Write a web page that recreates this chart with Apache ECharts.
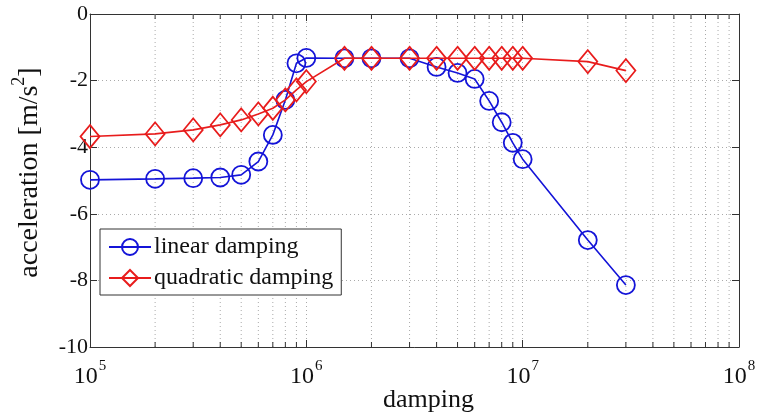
<!DOCTYPE html>
<html><head><meta charset="utf-8">
<script src="https://cdn.jsdelivr.net/npm/echarts@6/dist/echarts.min.js"></script>
<style>html,body{margin:0;padding:0;background:#fff}#c{width:757px;height:419px}</style>
</head><body><div id="c"></div>
<script>
const damping = [1e5,2e5,3e5,4e5,5e5,6e5,7e5,8e5,9e5,1e6,1.5e6,2e6,3e6,4e6,5e6,6e6,7e6,8e6,9e6,1e7,2e7,3e7];
const linearAcc = [-4.98,-4.95,-4.93,-4.91,-4.83,-4.43,-3.63,-2.58,-1.48,-1.32,-1.33,-1.33,-1.33,-1.59,-1.77,-1.95,-2.61,-3.25,-3.87,-4.36,-6.79,-8.14];
const quadAcc = [-3.68,-3.6,-3.48,-3.33,-3.18,-3.0,-2.83,-2.58,-2.28,-2.03,-1.33,-1.33,-1.33,-1.33,-1.33,-1.33,-1.33,-1.33,-1.33,-1.33,-1.43,-1.7];
const minorTicks = [2e5,3e5,4e5,5e5,6e5,7e5,8e5,9e5,2e6,3e6,4e6,5e6,6e6,7e6,8e6,9e6,2e7,3e7,4e7,5e7,6e7,7e7,8e7,9e7];
const yMin = -10, yMax = 0;

const font = 'Liberation Serif, Times New Roman, serif';
const blue = '#1414d8', red = '#e81c1c';
const chart = echarts.init(document.getElementById('c'));
const gridLine = {show: true, lineStyle: {color: '#aaaaaa', type: [1, 3], width: 1}};
chart.setOption({
  animation: false,
  grid: {left: 90, right: 18, top: 14, bottom: 72, containLabel: false, outerBoundsMode: 'none'},
  legend: {
    data: ['linear damping', 'quadratic damping'],
    orient: 'vertical', left: 100, top: 229,
    padding: [6, 8, 5, 8], itemGap: 7,
    backgroundColor: '#fff', borderColor: '#333', borderWidth: 1,
    itemWidth: 42, itemHeight: 20,
    textStyle: {fontFamily: font, fontSize: 24, color: '#111', padding: [0, 0, 0, -2]}
  },
  xAxis: [{
    type: 'log', logBase: 10, min: 1e5, max: 1e8,
    name: 'damping', nameLocation: 'middle', nameGap: 40, nameMoveOverlap: false,
    nameTextStyle: {fontFamily: font, fontSize: 26, color: '#111', padding: [0, 0, 0, 28]},
    axisLine: {show: true, onZero: false, lineStyle: {color: '#333', width: 1}},
    axisTick: {show: true, inside: true, length: 7, lineStyle: {color: '#333'}},
    splitLine: gridLine,
    axisLabel: {
      margin: 12,
      formatter: v => '{b|10}{s|' + Math.round(Math.log10(v)) + '}',
      rich: {
        b: {fontFamily: font, fontSize: 24, color: '#111', lineHeight: 30, verticalAlign: 'bottom'},
        s: {fontFamily: font, fontSize: 15, color: '#111', lineHeight: 30, verticalAlign: 'top', padding: [0, 0, 2, 1]}
      }
    }
  }, {
    type: 'log', logBase: 10, min: 1e5, max: 1e8, position: 'top',
    axisLine: {show: true, onZero: false, lineStyle: {color: '#333', width: 1}},
    axisTick: {show: true, inside: true, length: 7, lineStyle: {color: '#333'}},
    axisLabel: {show: false}, splitLine: {show: false}
  }],
  yAxis: [{
    type: 'value', min: yMin, max: yMax, interval: 2,
    name: '{a|acceleration [m/s}{s|2}{a|]}', nameLocation: 'middle', nameGap: 46, nameRotate: 90,
    nameMoveOverlap: false,
    nameTextStyle: {
      padding: [0, 0, 0, 16],
      rich: {
        a: {fontFamily: font, fontSize: 28, color: '#111', lineHeight: 34, verticalAlign: 'bottom'},
        s: {fontFamily: font, fontSize: 18, color: '#111', lineHeight: 34, verticalAlign: 'top'}
      }
    },
    axisLine: {show: true, onZero: false, lineStyle: {color: '#333', width: 1}},
    axisTick: {show: true, inside: true, length: 7, lineStyle: {color: '#333'}},
    splitLine: gridLine,
    axisLabel: {margin: 2, fontFamily: font, fontSize: 22, color: '#111'}
  }, {
    type: 'value', min: yMin, max: yMax, interval: 2, position: 'right',
    axisLine: {show: true, onZero: false, lineStyle: {color: '#333', width: 1}},
    axisTick: {show: true, inside: true, length: 7, lineStyle: {color: '#333'}},
    axisLabel: {show: false}, splitLine: {show: false}
  }],
  series: [{
    type: 'custom', name: 'minor', silent: true, z: 1,
    xAxisIndex: 0, yAxisIndex: 0,
    data: minorTicks.map(v => [v, yMin]),
    renderItem: function (params, api) {
      const v = api.value(0);
      const b = api.coord([v, yMin]);
      const t = api.coord([v, yMax]);
      return {type: 'group', children: [
        {type: 'line', shape: {x1: b[0], y1: b[1], x2: t[0], y2: t[1]},
         style: {stroke: '#aaaaaa', lineWidth: 1, lineDash: [1, 3]}},
        {type: 'line', shape: {x1: b[0], y1: b[1], x2: b[0], y2: b[1] - 5},
         style: {stroke: '#333', lineWidth: 1}},
        {type: 'line', shape: {x1: t[0], y1: t[1], x2: t[0], y2: t[1] + 5},
         style: {stroke: '#333', lineWidth: 1}}
      ]};
    }
  }, {
    type: 'line', name: 'linear damping', z: 3,
    data: damping.map((d, i) => [d, linearAcc[i]]),
    symbol: 'circle', symbolSize: 18,
    lineStyle: {color: blue, width: 1.6},
    itemStyle: {color: 'rgba(0,0,0,0)', borderColor: blue, borderWidth: 1.8}
  }, {
    type: 'line', name: 'quadratic damping', z: 4,
    data: damping.map((d, i) => [d, quadAcc[i]]),
    symbol: 'diamond', symbolSize: [19, 23],
    lineStyle: {color: red, width: 1.6},
    itemStyle: {color: 'rgba(0,0,0,0)', borderColor: red, borderWidth: 1.8}
  }]
});
</script></body></html>
